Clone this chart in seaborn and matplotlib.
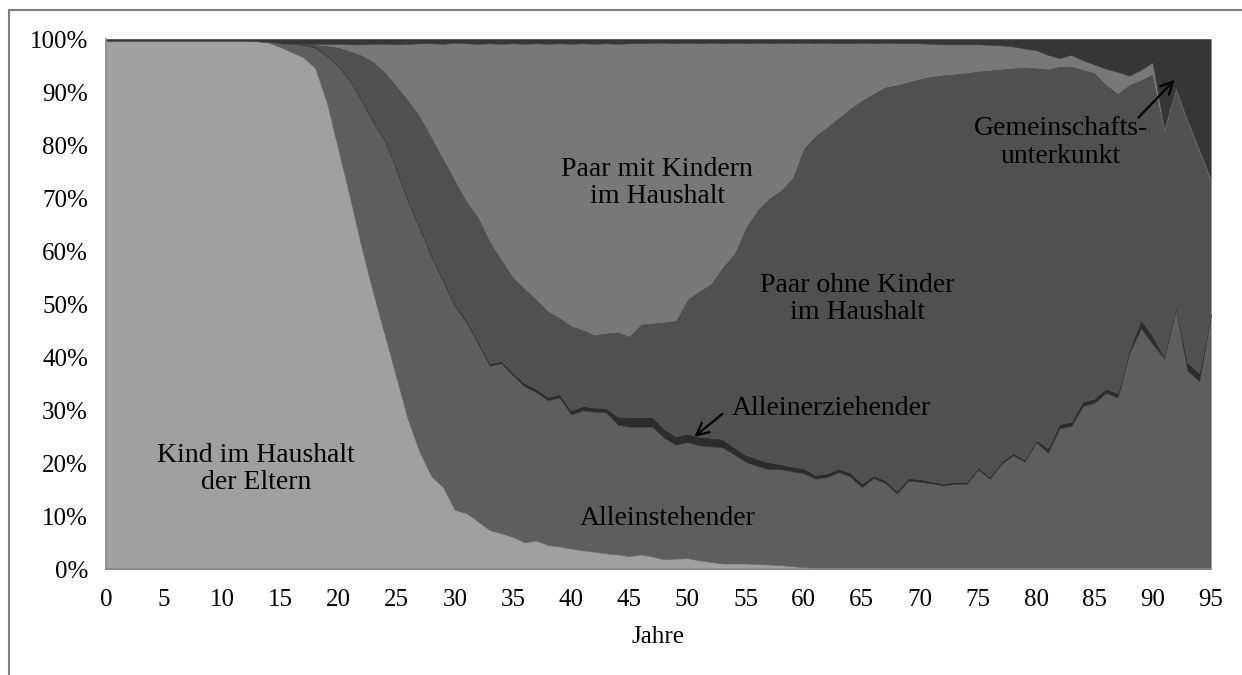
import numpy as np
import matplotlib
matplotlib.use("Agg")
import matplotlib.pyplot as plt
import seaborn as sns
from matplotlib.ticker import MultipleLocator, PercentFormatter
from matplotlib.lines import Line2D

sns.set_theme(style="white")
plt.rcParams['font.family'] = ['Liberation Serif', 'DejaVu Serif']

# Age in years (x axis)
ages = list(range(0, 96))

# Shares in % per age (bottom to top of the stack)
kind_eltern = [
    99.7, 99.7, 99.7, 99.7, 99.7, 99.7, 99.7, 99.7, 99.7, 99.7,
    99.7, 99.7, 99.7, 99.6, 99.3, 98.5, 97.5, 96.5, 94.5, 88.0,
    79.0, 70.0, 60.5, 52.0, 44.0, 36.0, 28.0, 22.0, 17.5, 15.5,
    11.2, 10.6, 9.0, 7.4, 6.8, 6.1, 5.1, 5.4, 4.6, 4.3,
    3.9, 3.6, 3.3, 3.0, 2.8, 2.5, 2.8, 2.4, 1.9, 2.0,
    2.1, 1.7, 1.4, 1.1, 1.1, 1.1, 1.0, 0.9, 0.8, 0.6,
    0.4, 0.3, 0.3, 0.3, 0.3, 0.3, 0.1, 0.0, 0.0, 0.0,
    0.0, 0.0, 0.0, 0.0, 0.0, 0.0, 0.0, 0.0, 0.0, 0.0,
    0.0, 0.0, 0.0, 0.0, 0.0, 0.0, 0.0, 0.0, 0.0, 0.0,
    0.0, 0.0, 0.0, 0.0, 0.0, 0.0,
]
alleinstehend = [
    0.0, 0.0, 0.0, 0.0, 0.0, 0.0, 0.0, 0.0, 0.0, 0.0,
    0.0, 0.0, 0.0, 0.0, 0.2, 0.7, 1.6, 2.4, 3.9, 8.8,
    15.8, 22.1, 27.8, 32.3, 36.8, 39.2, 41.2, 42.2, 41.4, 38.8,
    38.5, 36.0, 33.6, 31.0, 32.1, 30.5, 29.4, 28.0, 27.3, 28.1,
    25.3, 26.4, 26.4, 26.6, 24.5, 24.4, 24.1, 24.5, 22.9, 21.5,
    21.9, 21.7, 21.8, 21.9, 20.6, 19.2, 18.5, 18.0, 18.1, 17.9,
    17.7, 16.8, 17.1, 18.0, 17.2, 15.2, 17.1, 16.3, 14.3, 16.7,
    16.5, 16.2, 15.8, 16.1, 16.1, 18.8, 17.1, 19.9, 21.5, 20.3,
    24.0, 22.0, 26.6, 27.0, 30.8, 31.4, 33.3, 32.4, 40.8, 45.5,
    42.5, 39.7, 49.2, 37.5, 35.5, 47.7,
]
alleinerziehend = [
    0.0, 0.0, 0.0, 0.0, 0.0, 0.0, 0.0, 0.0, 0.0, 0.0,
    0.0, 0.0, 0.0, 0.0, 0.0, 0.0, 0.0, 0.1, 0.2, 0.2,
    0.2, 0.2, 0.2, 0.2, 0.2, 0.3, 0.3, 0.3, 0.3, 0.3,
    0.3, 0.4, 0.4, 0.4, 0.4, 0.4, 0.6, 0.6, 0.6, 0.6,
    0.8, 0.8, 0.8, 0.8, 1.5, 1.8, 1.8, 1.8, 1.6, 1.6,
    1.6, 1.6, 1.6, 1.6, 1.3, 1.3, 1.3, 1.3, 0.9, 0.9,
    0.9, 0.7, 0.7, 0.7, 0.7, 0.7, 0.5, 0.5, 0.5, 0.5,
    0.5, 0.4, 0.4, 0.4, 0.4, 0.4, 0.4, 0.4, 0.4, 0.4,
    0.4, 0.8, 0.8, 0.8, 0.8, 0.8, 0.8, 0.8, 0.6, 1.5,
    1.5, 0.3, 0.3, 1.5, 1.5, 0.3,
]
paar_ohne_kinder = [
    0.0, 0.0, 0.0, 0.0, 0.0, 0.0, 0.0, 0.0, 0.0, 0.0,
    0.0, 0.0, 0.0, 0.0, 0.0, 0.0, 0.0, 0.1, 0.4, 1.8,
    3.5, 5.5, 8.5, 11.3, 12.8, 15.7, 19.0, 21.0, 22.3, 22.9,
    23.5, 22.5, 23.5, 23.2, 19.2, 18.2, 17.9, 17.0, 16.3, 14.5,
    16.0, 14.4, 13.8, 14.2, 16.0, 15.3, 17.6, 17.8, 20.3, 21.9,
    25.4, 27.5, 29.1, 32.4, 36.5, 42.9, 47.0, 49.8, 51.7, 54.4,
    60.5, 64.0, 65.4, 66.2, 68.8, 72.3, 72.1, 74.2, 76.6, 74.8,
    75.6, 76.4, 77.1, 77.0, 77.2, 74.8, 76.7, 74.1, 72.7, 74.1,
    70.2, 71.6, 67.5, 67.1, 62.7, 61.5, 57.4, 56.6, 50.1, 45.3,
    49.5, 42.8, 41.0, 45.5, 42.0, 25.4,
]
paar_mit_kindern = [
    0.0, 0.0, 0.0, 0.0, 0.0, 0.0, 0.0, 0.0, 0.0, 0.0,
    0.0, 0.0, 0.0, 0.0, 0.0, 0.0, 0.0, 0.0, 0.1, 0.3,
    0.6, 1.2, 2.0, 3.3, 5.3, 7.8, 10.6, 13.7, 17.7, 21.6,
    25.8, 29.7, 32.6, 37.2, 40.6, 44.0, 46.1, 48.2, 50.3, 51.7,
    53.1, 54.0, 54.8, 54.6, 54.3, 55.2, 52.9, 52.8, 52.6, 52.2,
    48.3, 46.7, 45.4, 42.2, 39.8, 34.7, 31.5, 29.2, 27.8, 25.4,
    19.8, 17.4, 15.8, 14.0, 12.2, 10.8, 9.4, 8.3, 7.8, 7.2,
    6.6, 6.1, 5.7, 5.5, 5.3, 5.0, 4.7, 4.4, 4.0, 3.4,
    3.3, 2.6, 1.5, 2.1, 1.7, 1.5, 2.9, 4.0, 1.6, 1.9,
    2.1, 0.3, 0.3, 0.3, 0.3, 0.3,
]
gemeinschaft = [
    0.3, 0.3, 0.3, 0.3, 0.3, 0.3, 0.3, 0.3, 0.3, 0.3,
    0.3, 0.3, 0.3, 0.4, 0.5, 0.8, 0.9, 0.9, 0.9, 0.9,
    0.9, 1.0, 1.0, 0.9, 0.9, 1.0, 0.9, 0.8, 0.8, 0.9,
    0.7, 0.8, 0.9, 0.8, 0.9, 0.8, 0.9, 0.8, 0.9, 0.8,
    0.9, 0.8, 0.9, 0.8, 0.9, 0.8, 0.8, 0.7, 0.7, 0.8,
    0.7, 0.8, 0.7, 0.8, 0.7, 0.8, 0.7, 0.8, 0.7, 0.8,
    0.7, 0.8, 0.7, 0.8, 0.8, 0.7, 0.8, 0.7, 0.8, 0.8,
    0.8, 0.9, 1.0, 1.0, 1.0, 1.0, 1.1, 1.2, 1.4, 1.8,
    2.1, 3.0, 3.6, 3.0, 4.0, 4.8, 5.6, 6.2, 6.9, 5.8,
    4.4, 16.9, 9.2, 15.2, 20.7, 26.3,
]

series = [kind_eltern, alleinstehend, alleinerziehend,
          paar_ohne_kinder, paar_mit_kindern, gemeinschaft]
colors = ['#a0a0a0', '#5e5e5e', '#2c2c2c', '#505050', '#787878', '#363636']

fig = plt.figure(figsize=(12.42, 6.75), dpi=100)
ax = fig.add_axes([0.0853, 0.1566, 0.8895, 0.7856])

polys = ax.stackplot(ages, *series, colors=colors, linewidth=0)
for p in polys:
    p.set_edgecolor(p.get_facecolor())
    p.set_linewidth(0.4)

ax.set_xlim(0, 95)
ax.set_ylim(0, 100)
ax.xaxis.set_major_locator(MultipleLocator(5))
ax.yaxis.set_major_locator(MultipleLocator(10))
ax.yaxis.set_major_formatter(PercentFormatter(decimals=0))

ax.tick_params(axis='both', direction='out', length=6, width=1.2,
               color='#868686', labelsize=18, labelcolor='black')
ax.tick_params(axis='y', pad=7)
ax.tick_params(axis='x', pad=8)
for side in ['top', 'right']:
    ax.spines[side].set_visible(False)
for side in ['left', 'bottom']:
    ax.spines[side].set_color('#868686')
    ax.spines[side].set_linewidth(1.2)

ax.set_xlabel('Jahre', fontsize=18, color='black', labelpad=11)

# Labels inside the areas
lab = dict(ha='center', va='center', fontsize=20, color='black', linespacing=1.12)
ax.text(12.9, 18.9, 'Kind im Haushalt\nder Eltern', **lab)
ax.text(47.4, 72.9, 'Paar mit Kindern\nim Haushalt', **lab)
ax.text(64.6, 51.0, 'Paar ohne Kinder\nim Haushalt', **lab)
ax.text(48.3, 9.6, 'Alleinstehender', **lab)
ax.text(62.4, 30.4, 'Alleinerziehender', **lab)
ax.text(82.1, 80.5, 'Gemeinschafts-\nunterkunkt', **lab)

arrow = dict(arrowstyle='->', color='black', lw=1.6, mutation_scale=22,
             shrinkA=0, shrinkB=0)
ax.annotate('', xy=(50.6, 25.0), xytext=(53.0, 29.3), arrowprops=arrow)
ax.annotate('', xy=(91.9, 92.3), xytext=(88.8, 85.2), arrowprops=arrow)

# Outer chart frame (cut off at right and bottom)
fig.add_artist(Line2D([9 / 1242, 9 / 1242], [0, 1 - 10 / 675],
                      transform=fig.transFigure, color='#7f7f7f', lw=1.5))
fig.add_artist(Line2D([9 / 1242, 1], [1 - 10 / 675, 1 - 10 / 675],
                      transform=fig.transFigure, color='#7f7f7f', lw=1.5))

fig.savefig('out.png', dpi=100, facecolor='white')
